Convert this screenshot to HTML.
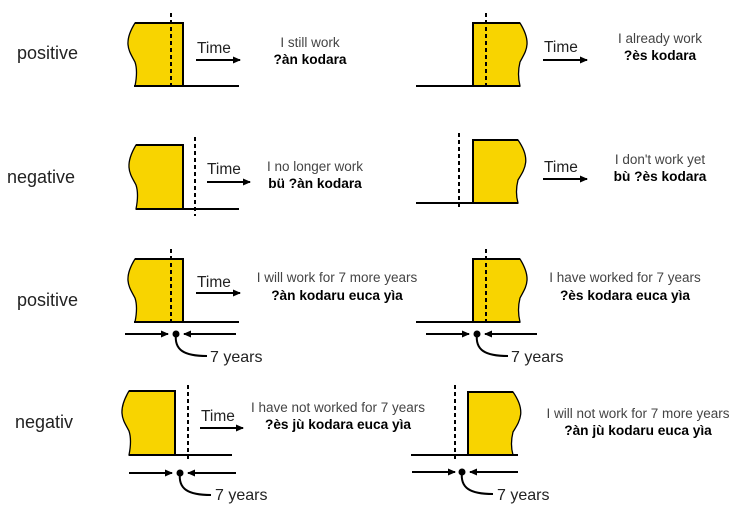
<!DOCTYPE html>
<html><head><meta charset="utf-8"><style>
html,body{margin:0;padding:0;background:#fff}
svg{display:block}
text{font-family:"Liberation Sans",Arial,sans-serif}
.lab{font-size:18px;fill:#222}
.tm{font-size:15.5px;fill:#222}
.sv{font-size:16px;fill:#222}
.d{font-size:13.5px;fill:#444;text-anchor:middle}
.b{font-size:13.7px;fill:#000;font-weight:bold;text-anchor:middle}
.y{fill:#f8d400;stroke:#000;stroke-width:1.3}
.ln{stroke:#000;stroke-width:2;fill:none}
.ds{stroke:#000;stroke-width:2;stroke-dasharray:4,3;fill:none}
</style></head><body>
<svg width="743" height="522" viewBox="0 0 743 522">
<defs>
<marker id="a" markerWidth="8" markerHeight="8" refX="7" refY="4" orient="auto" markerUnits="userSpaceOnUse"><path d="M0,0.5 L8,4 L0,7.5z" fill="#000"/></marker>
</defs>
<text class="lab" x="17" y="59">positive</text>
<text class="lab" x="7" y="183">negative</text>
<text class="lab" x="17" y="306">positive</text>
<text class="lab" x="15" y="428">negativ</text>

<!-- Row1 left -->
<path class="y" d="M135,23 L183,23 L183,86 L135,86 C137,76 137,68 135,62 C130,52 122,44 135,23Z" stroke="none"/>
<path d="M135,23 L183,23 L183,86" class="ln" stroke-width="1.5"/>
<line class="ln" x1="134" y1="86" x2="239" y2="86"/>
<line class="ds" x1="171" y1="13" x2="171" y2="86"/>
<text class="tm" x="197" y="53">Time</text>
<line class="ln" x1="196" y1="60" x2="240" y2="60" marker-end="url(#a)"/>
<text class="d" x="310" y="47">I still work</text>
<text class="b" x="310" y="64">?àn kodara</text>

<!-- Row1 right -->
<path class="y" d="M473,23 L520,23 C533,44 525,52 520,62 C518,70 518,78 520,86 L473,86Z" stroke="none"/>
<path d="M520,23 L473,23 L473,86" class="ln" stroke-width="1.5"/>
<line class="ln" x1="416" y1="86" x2="520" y2="86"/>
<line class="ds" x1="486" y1="13" x2="486" y2="86"/>
<text class="tm" x="544" y="52">Time</text>
<line class="ln" x1="543" y1="60" x2="587" y2="60" marker-end="url(#a)"/>
<text class="d" x="660" y="43">I already work</text>
<text class="b" x="660" y="60">?ès kodara</text>

<!-- Row2 left -->
<path class="y" d="M136,145 L183,145 L183,209 L136,209 C138,199 138,191 136,185 C131,175 123,167 136,145Z" stroke="none"/>
<path d="M136,145 L183,145 L183,209" class="ln" stroke-width="1.5"/>
<line class="ln" x1="136" y1="209" x2="239" y2="209"/>
<line class="ds" x1="195" y1="137" x2="195" y2="216"/>
<text class="tm" x="207" y="174">Time</text>
<line class="ln" x1="207" y1="182" x2="250" y2="182" marker-end="url(#a)"/>
<text class="d" x="315" y="171">I no longer work</text>
<text class="b" x="315" y="188">bü ?àn kodara</text>

<!-- Row2 right -->
<path class="y" d="M473,140 L518,140 C532,160 524,170 518,180 C516,188 516,196 518,203 L473,203Z" stroke="none"/>
<path d="M518,140 L473,140 L473,203" class="ln" stroke-width="1.5"/>
<line class="ln" x1="416" y1="203" x2="518" y2="203"/>
<line class="ds" x1="459" y1="133" x2="459" y2="209"/>
<text class="tm" x="544" y="172">Time</text>
<line class="ln" x1="543" y1="179" x2="587" y2="179" marker-end="url(#a)"/>
<text class="d" x="660" y="164">I don't work yet</text>
<text class="b" x="660" y="181">bù ?ès kodara</text>

<!-- Row3 left -->
<path class="y" d="M135,259 L183,259 L183,322 L135,322 C137,312 137,304 135,298 C130,288 122,280 135,259Z" stroke="none"/>
<path d="M135,259 L183,259 L183,322" class="ln" stroke-width="1.5"/>
<line class="ln" x1="134" y1="322" x2="239" y2="322"/>
<line class="ds" x1="171" y1="249" x2="171" y2="322"/>
<text class="tm" x="197" y="287">Time</text>
<line class="ln" x1="196" y1="293" x2="240" y2="293" marker-end="url(#a)"/>
<text class="d" x="337" y="282">I will work for 7 more years</text>
<text class="b" x="337" y="300">?àn kodaru euca yìa</text>
<line class="ln" x1="125" y1="334" x2="168" y2="334" marker-end="url(#a)"/>
<line class="ln" x1="236" y1="334" x2="184" y2="334" marker-end="url(#a)"/>
<circle cx="176" cy="334" r="3.5" fill="#000"/>
<path class="ln" d="M176,334 C174,350 184,356 207,356"/>
<text class="sv" x="210" y="362">7 years</text>

<!-- Row3 right -->
<path class="y" d="M473,259 L520,259 C533,280 525,288 520,298 C518,306 518,314 520,322 L473,322Z" stroke="none"/>
<path d="M520,259 L473,259 L473,322" class="ln" stroke-width="1.5"/>
<line class="ln" x1="416" y1="322" x2="520" y2="322"/>
<line class="ds" x1="486" y1="249" x2="486" y2="322"/>
<text class="d" x="625" y="282">I have worked for 7 years</text>
<text class="b" x="625" y="300">?ès kodara euca yìa</text>
<line class="ln" x1="426" y1="334" x2="469" y2="334" marker-end="url(#a)"/>
<line class="ln" x1="537" y1="334" x2="485" y2="334" marker-end="url(#a)"/>
<circle cx="477" cy="334" r="3.5" fill="#000"/>
<path class="ln" d="M477,334 C475,350 485,356 508,356"/>
<text class="sv" x="511" y="362">7 years</text>

<!-- Row4 left -->
<path class="y" d="M129,391 L175,391 L175,455 L129,455 C131,445 131,437 129,431 C124,421 116,413 129,391Z" stroke="none"/>
<path d="M129,391 L175,391 L175,455" class="ln" stroke-width="1.5"/>
<line class="ln" x1="129" y1="455" x2="232" y2="455"/>
<line class="ds" x1="188" y1="385" x2="188" y2="462"/>
<text class="tm" x="201" y="421">Time</text>
<line class="ln" x1="200" y1="428" x2="243" y2="428" marker-end="url(#a)"/>
<text class="d" x="338" y="412">I have not worked for 7 years</text>
<text class="b" x="338" y="429">?ès jù kodara euca yìa</text>
<line class="ln" x1="129" y1="473" x2="172" y2="473" marker-end="url(#a)"/>
<line class="ln" x1="236" y1="473" x2="188" y2="473" marker-end="url(#a)"/>
<circle cx="180" cy="473" r="3.5" fill="#000"/>
<path class="ln" d="M180,473 C178,489 188,495 211,495"/>
<text class="sv" x="215" y="500">7 years</text>

<!-- Row4 right -->
<path class="y" d="M468,392 L513,392 C527,412 519,422 513,432 C511,440 511,448 513,455 L468,455Z" stroke="none"/>
<path d="M513,392 L468,392 L468,455" class="ln" stroke-width="1.5"/>
<line class="ln" x1="411" y1="455" x2="518" y2="455"/>
<line class="ds" x1="455" y1="385" x2="455" y2="462"/>
<text class="d" x="638" y="418">I will not work for 7 more years</text>
<text class="b" x="638" y="435">?àn jù kodaru euca yìa</text>
<line class="ln" x1="412" y1="472" x2="455" y2="472" marker-end="url(#a)"/>
<line class="ln" x1="518" y1="472" x2="470" y2="472" marker-end="url(#a)"/>
<circle cx="462" cy="472" r="3.5" fill="#000"/>
<path class="ln" d="M462,472 C460,488 470,494 493,494"/>
<text class="sv" x="497" y="500">7 years</text>
</svg>
</body></html>
